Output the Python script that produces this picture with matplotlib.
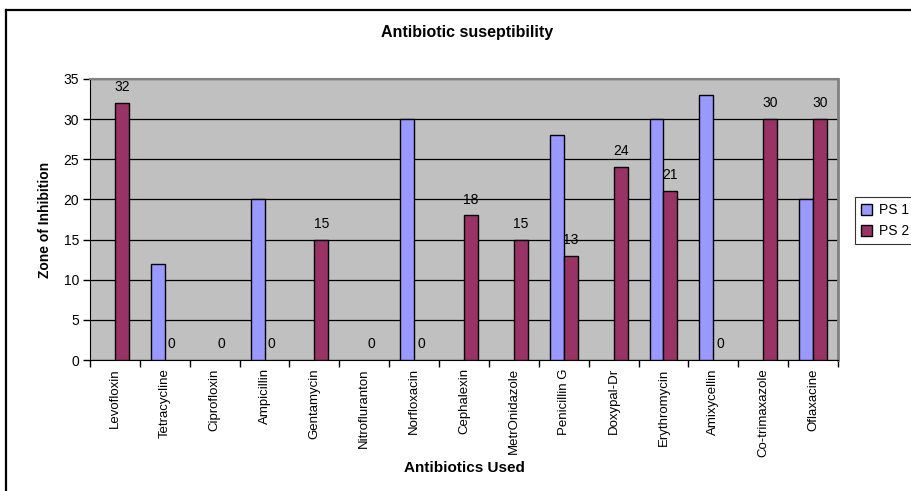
import matplotlib
matplotlib.use("Agg")
import matplotlib.pyplot as plt
from matplotlib.lines import Line2D
from matplotlib.patches import Patch
import numpy as np

plt.rcParams['font.family'] = ['Liberation Sans', 'DejaVu Sans']

antibiotics = ["Levofloxin", "Tetracycline", "Ciprofloxin", "Ampicillin", "Gentamycin",
               "Nitrofluranton", "Norfloxacin", "Cephalexin", "MetrOnidazole",
               "Penicillin G", "Doxypal-Dr", "Erythromycin", "Amixycellin", "Co-trimaxazole",
               "Oflaxacine"]
ps1 = [0, 12, 0, 20, 0, 0, 30, 0, 0, 28, 0, 30, 33, 0, 20]
ps2 = [32, 0, 0, 0, 15, 0, 0, 18, 15, 13, 24, 21, 0, 30, 30]
y_ticks = [0, 5, 10, 15, 20, 25, 30, 35]

c_ps1 = "#9999FF"
c_ps2 = "#993366"

W, H = 911, 491
fig = plt.figure(figsize=(W / 100, H / 100), dpi=100)
fig.patch.set_facecolor("white")

ax = fig.add_axes([90 / W, 1 - 360 / H, (838 - 90) / W, (360 - 79) / H])
ax.set_facecolor("#C0C0C0")

x = np.arange(len(antibiotics))
bw = 0.28


def edge_widths(values):
    # zero-height columns get no outline so nothing is drawn on the baseline
    return [1.0 if v > 0 else 0.0 for v in values]


ax.bar(x - bw / 2, ps1, width=bw, color=c_ps1, edgecolor="black",
       linewidth=edge_widths(ps1), zorder=3)
ax.bar(x + bw / 2, ps2, width=bw, color=c_ps2, edgecolor="black",
       linewidth=edge_widths(ps2), zorder=3)

for xi, v in zip(x, ps2):
    ax.annotate(str(v), xy=(xi + bw / 2, v), xytext=(0, 11.5), textcoords="offset points",
                ha="center", va="center", fontsize=10, zorder=4)

ax.set_xlim(-0.5, len(antibiotics) - 0.5)
ax.set_ylim(0, 35)
ax.set_yticks(y_ticks)
ax.yaxis.grid(True, color="black", linewidth=0.9, zorder=1)
ax.set_axisbelow(True)

ax.set_xticks(x)
ax.set_xticklabels(antibiotics, rotation=90, fontsize=9.5)
ax.set_xticks(np.arange(-0.5, len(antibiotics)), minor=True)
ax.tick_params(axis="x", which="major", length=0, pad=6)
ax.tick_params(axis="x", which="minor", length=5, width=1, direction="out", color="black")
ax.tick_params(axis="y", length=5, width=1, direction="out", labelsize=10, pad=3)

ax.spines["left"].set_color("black")
ax.spines["bottom"].set_color("black")
ax.spines["top"].set_color("#808080")
ax.spines["right"].set_color("#808080")
ax.spines["right"].set_linewidth(2)
ax.spines["top"].set_linewidth(1.5)

ax.set_ylabel("Zone of Inhibition", fontsize=10, fontweight="bold", labelpad=8)
ax.set_xlabel("Antibiotics Used", fontsize=11, fontweight="bold", labelpad=3)
fig.text(467 / W, 1 - 33 / H, "Antibiotic suseptibility", ha="center", va="center",
         fontsize=11.5, fontweight="bold")

handles = [Patch(facecolor=c_ps1, edgecolor="black", linewidth=1.0, label="PS 1"),
           Patch(facecolor=c_ps2, edgecolor="black", linewidth=1.0, label="PS 2")]
leg = fig.legend(handles=handles, loc="upper left",
                 bbox_to_anchor=(855 / W, 1 - 197 / H), borderaxespad=0, fontsize=10,
                 frameon=True, fancybox=False, edgecolor="black",
                 handlelength=0.8, handleheight=0.8, handletextpad=0.5,
                 borderpad=0.45, labelspacing=0.5)
leg.get_frame().set_linewidth(0.8)

# outer chart frame
fig.add_artist(Line2D([6 / W, 1.0], [1 - 10 / H, 1 - 10 / H], transform=fig.transFigure,
                      color="black", linewidth=1.6))
fig.add_artist(Line2D([6 / W, 6 / W], [1 - 10 / H, 0.0], transform=fig.transFigure,
                      color="black", linewidth=1.6))

fig.savefig("out.png", dpi=100, facecolor="white")
